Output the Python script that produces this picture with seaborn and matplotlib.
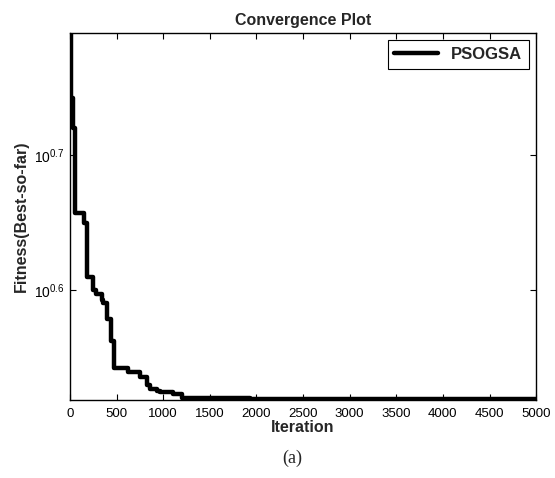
import numpy as np
import pandas as pd
import seaborn as sns
import matplotlib.pyplot as plt
from matplotlib.ticker import FixedLocator, NullLocator

# curva de convergência (best-so-far)
iteration = [0, 15, 30, 50, 150, 182, 247, 279, 343, 354, 397, 440, 472,
             622, 751, 826, 858, 933, 966, 1105, 1202, 1930, 5000]
fitness = [6.18, 5.53, 5.25, 4.54, 4.46, 4.07, 3.98, 3.95, 3.91, 3.89, 3.79,
           3.65, 3.48, 3.46, 3.43, 3.38, 3.36, 3.35, 3.34, 3.33, 3.31, 3.30, 3.30]
xticks = [0, 500, 1000, 1500, 2000, 2500, 3000, 3500, 4000, 4500, 5000]
yticks_exp = [0.6, 0.7]

df = pd.DataFrame({'Iteration': iteration, 'Fitness': fitness})

sns.set_theme(style='white')
plt.rcParams['font.family'] = ['Liberation Sans', 'DejaVu Sans']
plt.rcParams['mathtext.fontset'] = 'custom'
plt.rcParams['mathtext.rm'] = 'Liberation Sans'
plt.rcParams['mathtext.it'] = 'Liberation Sans'

fig = plt.figure(figsize=(5.55, 4.78), dpi=100)
ax = fig.add_axes([0.126, 0.163, 0.840, 0.768])

sns.lineplot(data=df, x='Iteration', y='Fitness', ax=ax, color='black',
             linewidth=3.2, drawstyle='steps-post', label='PSOGSA')

ax.set_yscale('log')
ax.set_xlim(0, 5000)
ax.set_ylim(10 ** 0.518, 10 ** 0.791)
ax.set_xticks(xticks)
ax.set_xticklabels([str(t) for t in xticks], fontsize=9.5)
ax.yaxis.set_major_locator(FixedLocator([10 ** e for e in yticks_exp]))
ax.yaxis.set_minor_locator(NullLocator())
ax.set_yticklabels([r'$10^{%.1f}$' % e for e in yticks_exp], fontsize=10)

ax.tick_params(direction='in', length=4, width=0.8, top=True, right=True,
               bottom=True, left=True, colors='black')
ax.tick_params(axis='x', pad=6)
for s in ax.spines.values():
    s.set_color('black')
    s.set_linewidth(1.0)

ax.set_title('Convergence Plot', fontsize=11.5, fontweight='bold', pad=6)
ax.set_xlabel('Iteration', fontsize=11.5, fontweight='bold', labelpad=0)
ax.set_ylabel('Fitness(Best-so-far)', fontsize=11.5, fontweight='bold', labelpad=4)

leg = ax.legend(loc='upper right', prop={'weight': 'bold', 'size': 12},
                frameon=True, fancybox=False, edgecolor='black', framealpha=1,
                handlelength=2.6, handletextpad=0.8, borderpad=0.4,
                borderaxespad=0.45)
leg.get_frame().set_linewidth(0.8)

fig.text(0.527, 0.042, '(a)', fontsize=13, family=['Liberation Serif'],
         ha='center', va='center')

fig.savefig('out.png', dpi=100)
